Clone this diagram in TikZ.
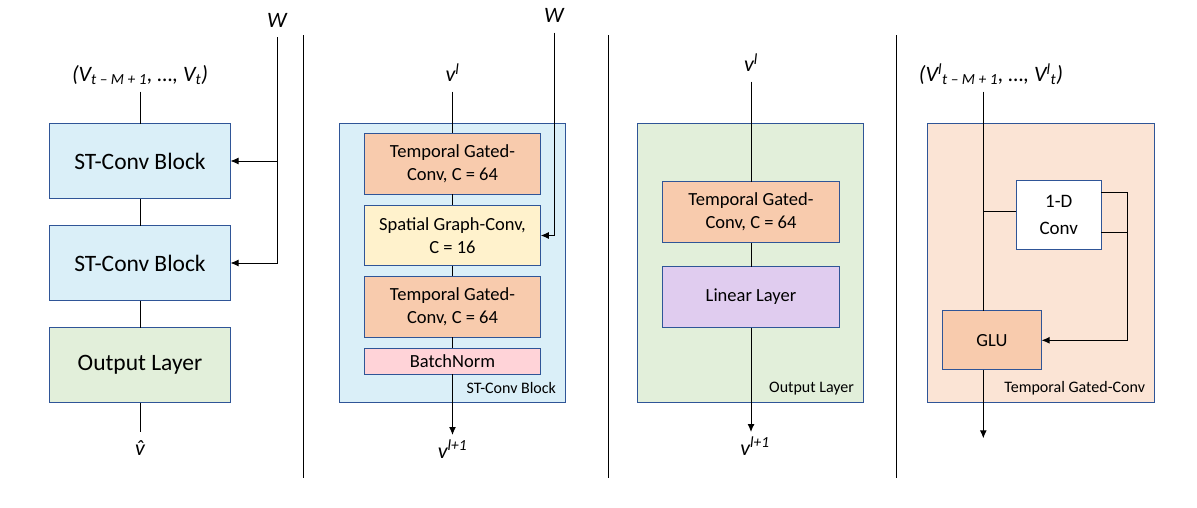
\documentclass[tikz,border=0pt]{standalone}
\usepackage{fontspec}
\setmainfont{Carlito}
\usepackage{tikz}
\usetikzlibrary{arrows.meta}
\definecolor{boxline}{HTML}{2F5597}
\definecolor{stconvbg}{HTML}{DAEFF8}
\definecolor{outputbg}{HTML}{E2EFDA}
\definecolor{gatedbg}{HTML}{F8CBAD}
\definecolor{graphbg}{HTML}{FFF2CC}
\definecolor{normbg}{HTML}{FFD3D8}
\definecolor{linearbg}{HTML}{E0CCEF}
\definecolor{tgconvbg}{HTML}{FBE4D5}

\begin{document}
\begin{tikzpicture}[x=1pt, y=-1pt, line width=1pt,
>={Latex[length=8pt,width=7pt]},
every node/.style = {inner sep=0pt, outer sep=0pt, align=center},
block/.style = {draw=boxline, line width=1pt, minimum width=181pt,
  minimum height=75pt, font=\fontsize{23.5}{28}\selectfont},
layerbox/.style = {draw=boxline, line width=1pt, minimum width=176.5pt,
  minimum height=61pt, font=\fontsize{18.5}{23}\selectfont},
panel/.style = {draw=boxline, line width=1pt, minimum width=226.5pt, minimum height=279pt},
caption/.style = {anchor=east, font=\fontsize{16}{19}\selectfont},
var/.style = {anchor=base, inner sep=3pt, text height=20pt, text depth=7pt,
  font=\fontsize{22}{26}\selectfont\itshape}
]
\useasboundingbox (0,0) rectangle (1197,507);

\foreach \x in {303.3,608.3,896.2}
  \draw (\x,35) -- (\x,478.3);

% whole network
\node[block, fill=stconvbg] (st1) at (140,161) {ST-Conv Block};
\node[block, fill=stconvbg] (st2) at (140,263) {ST-Conv Block};
\node[block, fill=outputbg] (out1) at (140,365) {Output Layer};
\node[var] (in1) at (140,81.7) {(V\textsubscript{t – M + 1}, …, V\textsubscript{t})};
\node[var] (pred) at (140,455) {\accent"02C6 v};
\node[var] (w1) at (277,27.3) {W};
\draw (in1) -- (st1);
\draw (st1) -- (st2);
\draw (st2) -- (out1);
\draw (out1) -- (pred);
\draw[->] (w1) |- (st2.east);
\draw[->] (w1 |- st1) -- (st1.east);

% st-conv block
\node[panel, fill=stconvbg] (stc) at (452.5,262.8) {};
\node[layerbox, fill=gatedbg] (tg1) at (452.5,163.8) {Temporal Gated-\\Conv, C = 64};
\node[layerbox, fill=graphbg, minimum height=60.4pt] (sg) at (452.5,235.5) {Spatial Graph-Conv,\\C = 16};
\node[layerbox, fill=gatedbg] (tg2) at (452.5,306.8) {Temporal Gated-\\Conv, C = 64};
\node[layerbox, fill=normbg, minimum height=26pt] (bn) at (452.5,361.3) {BatchNorm};
\node[caption] (stcname) at (556,388.3) {ST-Conv Block};
\node[var] (vin2) at (452.5,81.7) {v\textsuperscript{l}};
\node[var] (vout2) at (452.5,458) {v\textsuperscript{l+1}};
\node[var] (w2) at (554,22.7) {W};
\draw (vin2) -- (tg1);
\draw (tg1) -- (sg);
\draw (sg) -- (tg2);
\draw (tg2) -- (bn);
\draw[->] (bn) -- (vout2);
\draw[->] (w2) |- (sg.east);

% output layer
\node[panel, fill=outputbg] (olc) at (750.4,262.8) {};
\node[layerbox, fill=gatedbg] (tg3) at (751,212) {Temporal Gated-\\Conv, C = 64};
\node[layerbox, fill=linearbg] (lin) at (751,297) {Linear Layer};
\node[caption] (olname) at (854,388.3) {Output Layer};
\node[var] (vin3) at (751,71.7) {v\textsuperscript{l}};
\node[var] (vout3) at (755,455) {v\textsuperscript{l+1}};
\draw (vin3) -- (tg3);
\draw (tg3) -- (lin);
\draw[->] (lin.south) -- (lin.south |- vout3.north);

% temporal gated-conv
\node[panel, fill=tgconvbg] (tgc) at (1041.2,262.8) {};
\node[layerbox, fill=white, minimum width=84.6pt, minimum height=68.6pt,
  font=\fontsize{19}{26.5}\selectfont] (conv) at (1058.7,215) {1-D\\Conv};
\node[layerbox, fill=gatedbg, minimum width=99.4pt, minimum height=59.3pt] (glu) at (991.9,340.3) {GLU};
\node[caption] (tgcname) at (1145,388.3) {Temporal Gated-Conv};
\node[var] (vin4) at (991,81.7) {(V\textsuperscript{l}\textsubscript{t – M + 1}, …, V\textsuperscript{l}\textsubscript{t})};
\coordinate (trunk) at (983.3,438.3);
\coordinate (fork) at (983.3,211.3);
\coordinate (merge) at (1127.2,192.3);
\draw (trunk |- vin4.south) -- (trunk |- glu.north);
\draw[->] (trunk |- glu.south) -- (trunk);
\draw (fork) -- (fork -| conv.west);
\draw[->] (merge -| conv.east) -- (merge) |- (glu.east);
\draw (conv.east |- 0,232.3) -- (merge |- 0,232.3);

\end{tikzpicture}
\end{document}
